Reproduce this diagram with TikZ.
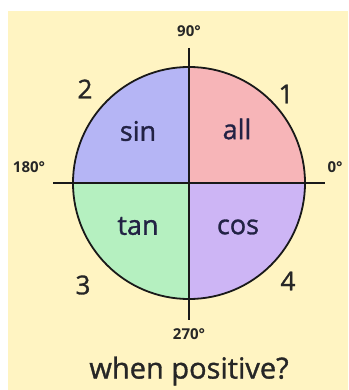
\documentclass[tikz,border=0pt]{standalone}
\usepackage{fontspec}
\setmainfont{Open Sans}
\newfontfamily\heavy[FakeBold=1.2]{Open Sans}
\definecolor{bgc}{HTML}{FFF4C2}
\definecolor{sinc}{HTML}{B5B5F5}
\definecolor{allc}{HTML}{F7B5B8}
\definecolor{tanc}{HTML}{B5F0C0}
\definecolor{cosc}{HTML}{CDB5F5}
\definecolor{txt}{HTML}{222244}
\begin{document}
\begin{tikzpicture}[x=1pt,y=-1pt,
  quad/.style={font=\heavy\fontsize{27}{29}\selectfont, text=txt},
  num/.style={font=\heavy\fontsize{26}{28}\selectfont, text=black!85},
  deg/.style={font=\bfseries\fontsize{15}{17}\selectfont, text=black!85},
  axis/.style={line width=2.2pt, black!90}]
\useasboundingbox (0,0) rectangle (348,390);
\fill[bgc] (8,11) rectangle (348,390);
\coordinate (O) at (189,183);
\fill[allc] (O) -- (305,183) arc[start angle=0,end angle=-90,radius=116] -- cycle;
\fill[sinc] (O) -- (189,67) arc[start angle=-90,end angle=-180,radius=116] -- cycle;
\fill[tanc] (O) -- (73,183) arc[start angle=180,end angle=90,radius=116] -- cycle;
\fill[cosc] (O) -- (189,299) arc[start angle=90,end angle=0,radius=116] -- cycle;
\draw[line width=1.8pt, black!90] (O) circle[radius=116];
\coordinate (top) at (189,48);
\coordinate (bot) at (189,320);
\coordinate (lft) at (53,183);
\coordinate (rgt) at (325,183);
\draw[axis] (top) -- (bot);
\draw[axis] (lft) -- (rgt);
\node[deg] (d90) at (189,31) {90°};
\node[deg] (d180) at (29,167) {180°};
\node[deg] (d0) at (335,167) {0°};
\node[deg] (d270) at (189,334) {270°};
\node[quad] (sin) at (138,131) {sin};
\node[quad] (all) at (237,129) {all};
\node[quad] (tan) at (138,226) {tan};
\node[quad] (cos) at (238,227) {cos};
\node[num] (n1) at (286,94) {1};
\node[num] (n2) at (85,89) {2};
\node[num] (n3) at (83,285) {3};
\node[num] (n4) at (288,281) {4};
\node[font=\heavy\fontsize{29}{31}\selectfont, text=black!85] (q) at (189,371) {when positive?};
\end{tikzpicture}
\end{document}
